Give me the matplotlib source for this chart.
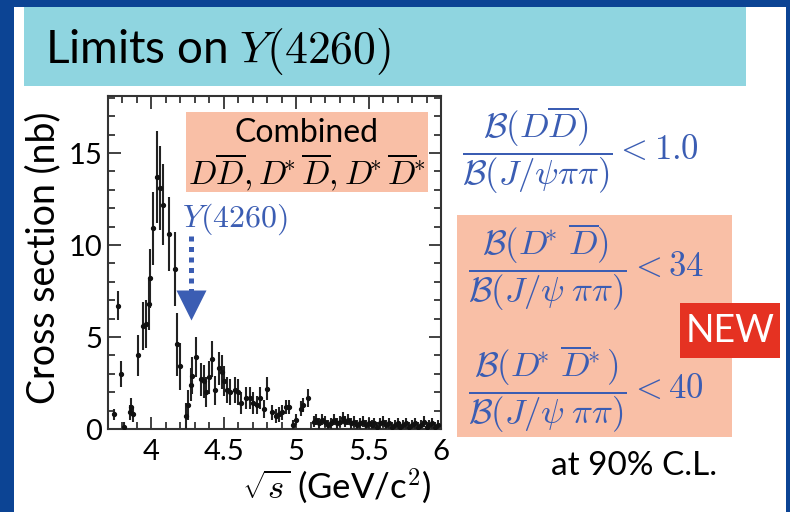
import matplotlib
matplotlib.use("Agg")
import matplotlib.pyplot as plt
from matplotlib.patches import Rectangle
from matplotlib.ticker import MultipleLocator, FixedLocator, FixedFormatter

plt.rcParams["mathtext.fontset"] = "cm"
plt.rcParams["font.family"] = ["Lato", "DejaVu Sans"]

# Combined D Dbar, D* Dbar, D* D*bar cross section (nb) vs sqrt(s) (GeV)
energy = [3.74, 3.77, 3.79, 3.81, 3.85, 3.86, 3.87, 3.91, 3.94, 3.96, 3.98, 3.99,
          4.01, 4.04, 4.06, 4.08, 4.12, 4.16, 4.18, 4.20, 4.24, 4.25, 4.27, 4.28,
          4.31, 4.34, 4.36, 4.38, 4.40, 4.42, 4.44, 4.47, 4.49, 4.50, 4.52, 4.54,
          4.58, 4.60, 4.62, 4.65, 4.68, 4.70, 4.73, 4.75, 4.78, 4.80, 4.83, 4.86,
          4.88, 4.90, 4.93, 4.95, 4.98, 5.00, 5.03, 5.05, 5.08,
          5.12, 5.14, 5.16, 5.18, 5.20, 5.22, 5.24, 5.26, 5.28, 5.30, 5.32, 5.34,
          5.36, 5.38, 5.40, 5.42, 5.44, 5.46, 5.48, 5.50, 5.52, 5.54, 5.56, 5.58,
          5.60, 5.62, 5.64, 5.66, 5.68, 5.70, 5.72, 5.74, 5.76, 5.78, 5.80, 5.82,
          5.84, 5.86, 5.88, 5.90, 5.92, 5.94, 5.96, 5.98]
xsec = [0.8, 6.7, 3.0, 0.1, 0.9, 1.2, 0.8, 4.0, 5.6, 5.7, 6.8, 8.2,
        10.9, 13.7, 13.1, 12.2, 10.6, 8.7, 4.6, 3.4, 0.7, 1.3, 2.4, 2.9,
        3.9, 2.7, 2.6, 2.0, 2.8, 3.8, 2.1, 3.3, 3.1, 2.6, 2.1, 2.0,
        2.1, 2.0, 1.4, 1.7, 1.7, 1.4, 1.3, 1.7, 1.1, 2.2, 0.9, 0.7,
        0.8, 0.9, 1.2, 1.2, 0.2, 0.5, 1.1, 1.3, 1.7,
        0.4, 0.5, 0.3, 0.5, 0.4, 0.2, 0.3, 0.5, 0.3, 0.4, 0.6, 0.4,
        0.5, 0.3, 0.4, 0.2, 0.3, 0.4, 0.2, 0.3, 0.2, 0.3, 0.1, 0.3,
        0.4, 0.2, 0.3, 0.1, 0.2, 0.3, 0.1, 0.2, 0.3, 0.1, 0.2, 0.3,
        0.1, 0.2, 0.4, 0.1, 0.2, 0.3, 0.1, 0.2]
xsec_err = [0.3, 0.8, 0.7, 0.3, 0.4, 0.5, 0.4, 1.1, 1.3, 1.3, 1.4, 1.6,
            2.0, 2.5, 2.3, 2.2, 2.0, 2.0, 1.7, 1.3, 0.7, 0.8, 0.9, 1.0,
            1.1, 0.9, 0.9, 0.8, 0.9, 1.0, 0.8, 0.9, 0.9, 0.8, 0.7, 0.7,
            0.7, 0.7, 0.6, 0.6, 0.6, 0.6, 0.5, 0.6, 0.5, 0.6, 0.4, 0.4,
            0.4, 0.4, 0.4, 0.4, 0.3, 0.3, 0.4, 0.4, 0.5,
            0.3, 0.3, 0.3, 0.3, 0.3, 0.3, 0.3, 0.3, 0.3, 0.3, 0.3, 0.3,
            0.3, 0.3, 0.3, 0.3, 0.3, 0.3, 0.3, 0.3, 0.3, 0.3, 0.3, 0.3,
            0.3, 0.3, 0.3, 0.3, 0.3, 0.3, 0.3, 0.3, 0.3, 0.3, 0.3, 0.3,
            0.3, 0.3, 0.3, 0.3, 0.3, 0.3, 0.3, 0.3]

x_ticks = [4.0, 4.5, 5.0, 5.5, 6.0]
x_tick_labels = ["4", "4.5", "5", "5.5", "6"]
y_ticks = [0, 5, 10, 15]
y_tick_labels = ["0", "5", "10", "15"]

y4260_mass = 4.27  # position of the Y(4260) marker arrow

STAR = r"^{\!\!\!*}"      # star tucked against an italic D
STAR_BAR = r"^{\!\!*}"    # star following an overlined D
ratio_labels = [
    r"$\dfrac{\mathcal{B}(D\overline{D})}{\mathcal{B}(J/\psi\pi\pi)} < 1.0$",
    r"$\dfrac{\mathcal{B}(D" + STAR + r"\,\overline{D})}{\mathcal{B}(J/\psi\;\pi\pi)} < 34$",
    r"$\dfrac{\mathcal{B}(D" + STAR + r"\,\overline{D}" + STAR_BAR
    + r")}{\mathcal{B}(J/\psi\;\pi\pi)} < 40$",
]
combined_label = (r"$D\overline{D}, D" + STAR + r"\overline{D}, D" + STAR
                  + r"\overline{D}" + STAR_BAR + "$")

BLUE_BG = "#0c4494"
CYAN = "#8fd5e0"
SALMON = "#f9bfa6"
RED = "#e53222"
TEXT_BLUE = "#3b5db3"

W, H = 790, 512
fig = plt.figure(figsize=(W / 100, H / 100), dpi=100)
fig.patch.set_facecolor(BLUE_BG)


def px_rect(x0, y0, x1, y1, color, z=0):
    fig.patches.append(Rectangle((x0 / W, 1 - y1 / H), (x1 - x0) / W, (y1 - y0) / H,
                                 transform=fig.transFigure, facecolor=color,
                                 edgecolor="none", zorder=z))


# slide panel, header bar and highlight boxes
px_rect(14, 7, 786, 512, "white", z=-3)
px_rect(24, 7, 746, 86, CYAN, z=-2)
px_rect(457, 215, 732, 437, SALMON, z=-2)
px_rect(680, 303, 780, 358, RED, z=2)

fig.text(45 / W, 1 - 63 / H, r"Limits on $Y(4260)$", fontsize=33, color="black",
         ha="left", va="baseline", zorder=3)

# main plot
ax = fig.add_axes([108 / W, 1 - 429 / H, (441 - 108) / W, (429 - 96) / H])
ax.set_zorder(5)
ax.set_facecolor("white")
ax.errorbar(energy, xsec, yerr=xsec_err, fmt="o", ms=2.8, color="#111111",
            ecolor="#222222", elinewidth=1.5, capsize=0, zorder=3)
ax.set_xlim(3.7, 6.0)
ax.set_ylim(0, 18.1)
ax.xaxis.set_major_locator(FixedLocator(x_ticks))
ax.xaxis.set_major_formatter(FixedFormatter(x_tick_labels))
ax.xaxis.set_minor_locator(MultipleLocator(0.1))
ax.yaxis.set_major_locator(FixedLocator(y_ticks))
ax.yaxis.set_major_formatter(FixedFormatter(y_tick_labels))
ax.yaxis.set_minor_locator(MultipleLocator(1))
ax.tick_params(which="both", direction="in", top=True, right=True, colors="#333333",
               labelcolor="black", labelsize=21, width=1.3)
ax.tick_params(which="major", length=9)
ax.tick_params(which="minor", length=5)
ax.tick_params(axis="x", pad=7)
ax.tick_params(axis="y", pad=4)
for s in ax.spines.values():
    s.set_linewidth(1.5)
    s.set_color("#333333")

fig.text(43 / W, 1 - 258 / H, "Cross section (nb)", rotation=90, fontsize=27,
         ha="center", va="center")
fig.text(337 / W, 1 - 486 / H, r"$\sqrt{s}$ (GeV/c$^2$)", fontsize=25,
         ha="center", va="center")

# "Combined" label box inside the plot
ax.add_patch(Rectangle((0.234, 0.712), 0.727, 0.24, transform=ax.transAxes,
                       facecolor=SALMON, edgecolor="none", zorder=2))
ax.text(0.597, 0.89, "Combined", transform=ax.transAxes, fontsize=23,
        ha="center", va="center", zorder=4)
ax.text(0.597, 0.772, combined_label,
        transform=ax.transAxes, fontsize=24, ha="center", va="center", zorder=4)

# Y(4260) marker arrow
ax.text(4.575, 11.4, r"$Y(4260)$", fontsize=23, color=TEXT_BLUE,
        ha="center", va="center", zorder=4)
ax.plot([y4260_mass, y4260_mass], [10.5, 7.5], color=TEXT_BLUE, lw=3.6,
        ls=(0, (1, 1.1)), solid_capstyle="butt", dash_capstyle="butt", zorder=4)
ax.plot([y4260_mass], [6.75], marker="v", ms=21, color=TEXT_BLUE, mec="none", zorder=4)

# branching-fraction ratio limits
ratio_y = [150, 267, 389]
ratio_x = [462, 468, 468]
for lbl, yy, xx in zip(ratio_labels, ratio_y, ratio_x):
    fig.text(xx / W, 1 - yy / H, lbl, fontsize=25, color=TEXT_BLUE,
             ha="left", va="center", zorder=3)

fig.text(730 / W, 1 - 331 / H, "NEW", fontsize=27, color="white",
         ha="center", va="center", zorder=3)
fig.text(634 / W, 1 - 466 / H, "at 90% C.L.", fontsize=24, color="black",
         ha="center", va="center", zorder=3)

fig.savefig("out.png", dpi=100, facecolor=fig.get_facecolor())
